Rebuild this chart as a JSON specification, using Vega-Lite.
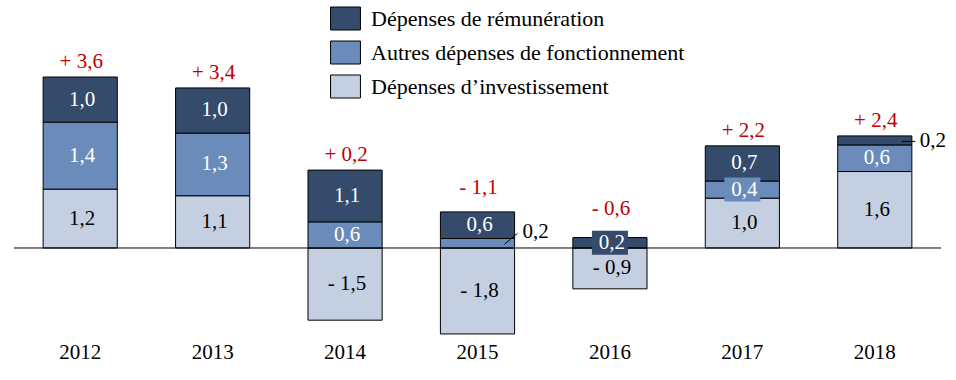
{
  "$schema": "https://vega.github.io/schema/vega-lite/v6.json",
  "width": 927,
  "height": 331,
  "autosize": {"type": "none"},
  "padding": {"left": 14, "top": 5, "right": 15, "bottom": 44},
  "background": "white",
  "config": {"view": {"stroke": null}, "font": "Liberation Serif"},
  "datasets": {
    "segments": [
      {"year": 2012, "cat": "Dépenses d’investissement", "value": 1.24, "label": "1,2"},
      {"year": 2012, "cat": "Autres dépenses de fonctionnement", "value": 1.41, "label": "1,4"},
      {"year": 2012, "cat": "Dépenses de rémunération", "value": 0.95, "label": "1,0"},
      {"year": 2013, "cat": "Dépenses d’investissement", "value": 1.10, "label": "1,1"},
      {"year": 2013, "cat": "Autres dépenses de fonctionnement", "value": 1.32, "label": "1,3"},
      {"year": 2013, "cat": "Dépenses de rémunération", "value": 0.95, "label": "1,0"},
      {"year": 2014, "cat": "Dépenses d’investissement", "value": -1.52, "label": "- 1,5"},
      {"year": 2014, "cat": "Autres dépenses de fonctionnement", "value": 0.55, "label": "0,6"},
      {"year": 2014, "cat": "Dépenses de rémunération", "value": 1.09, "label": "1,1"},
      {"year": 2015, "cat": "Dépenses d’investissement", "value": -1.81, "label": "- 1,8"},
      {"year": 2015, "cat": "Autres dépenses de fonctionnement", "value": 0.2, "label": "0,2"},
      {"year": 2015, "cat": "Dépenses de rémunération", "value": 0.56, "label": "0,6"},
      {"year": 2016, "cat": "Dépenses d’investissement", "value": -0.86, "label": "- 0,9"},
      {"year": 2016, "cat": "Dépenses de rémunération", "value": 0.22, "label": "0,2"},
      {"year": 2017, "cat": "Dépenses d’investissement", "value": 1.05, "label": "1,0"},
      {"year": 2017, "cat": "Autres dépenses de fonctionnement", "value": 0.36, "label": "0,4"},
      {"year": 2017, "cat": "Dépenses de rémunération", "value": 0.74, "label": "0,7"},
      {"year": 2018, "cat": "Dépenses d’investissement", "value": 1.61, "label": "1,6"},
      {"year": 2018, "cat": "Autres dépenses de fonctionnement", "value": 0.56, "label": "0,6"},
      {"year": 2018, "cat": "Dépenses de rémunération", "value": 0.19, "label": "0,2"}
    ],
    "totals": [
      {"year": 2012, "total": "+ 3,6"},
      {"year": 2013, "total": "+ 3,4"},
      {"year": 2014, "total": "+ 0,2"},
      {"year": 2015, "total": "- 1,1"},
      {"year": 2016, "total": "- 0,6"},
      {"year": 2017, "total": "+ 2,2"},
      {"year": 2018, "total": "+ 2,4"}
    ]
  },
  "data": {"name": "segments"},
  "transform": [
    {"calculate": "indexof(['Dépenses d’investissement','Autres dépenses de fonctionnement','Dépenses de rémunération'], datum.cat)", "as": "ord"},
    {"stack": "value", "groupby": ["year"], "sort": [{"field": "ord", "order": "ascending"}], "as": ["v0", "v1"]},
    {"calculate": "(datum.v0 + datum.v1) / 2", "as": "mid"}
  ],
  "layer": [
    {
      "mark": {"type": "bar", "stroke": "black", "strokeWidth": 1},
      "encoding": {
        "x": {"field": "year", "type": "ordinal", "scale": {"paddingInner": 0.44, "paddingOuter": 0.22}, "axis": {"title": null, "labelAngle": 0, "domain": false, "ticks": false, "labelFontSize": 21, "labelFont": "Liberation Serif", "labelColor": "black", "labelPadding": 5}},
        "y": {"field": "v0", "type": "quantitative", "scale": {"domain": [-1.853, 5.116], "nice": false, "zero": false}, "axis": null},
        "y2": {"field": "v1"},
        "color": {
          "field": "cat", "type": "nominal",
          "scale": {"domain": ["Dépenses de rémunération", "Autres dépenses de fonctionnement", "Dépenses d’investissement"], "range": ["#344B6C", "#6B8CBA", "#C4CFE2"]},
          "legend": {"title": null, "orient": "none", "legendX": 319.5, "legendY": 1.5, "symbolType": "M-1.3,-1H1.3V1H-1.3Z", "symbolSize": 529, "symbolStrokeColor": "black", "symbolStrokeWidth": 1, "symbolOpacity": 1, "labelFontSize": 22, "labelFont": "Liberation Serif", "labelColor": "black", "labelOffset": 13.5, "rowPadding": 6, "padding": 0, "labelLimit": 500}
        }
      }
    },
    {
      "data": {"values": [{}]},
      "mark": {"type": "rule", "stroke": "black", "strokeWidth": 1},
      "encoding": {"y": {"datum": 0, "type": "quantitative"}}
    },
    {
      "transform": [{"filter": "(datum.year == 2016 && datum.cat == 'Dépenses de rémunération') || (datum.year == 2017 && datum.cat == 'Autres dépenses de fonctionnement')"}],
      "mark": {"type": "point", "shape": "M-1.5,-1H1.5V1H-1.5Z", "filled": true, "size": 576, "opacity": 1, "strokeWidth": 0},
      "encoding": {
        "x": {"field": "year", "type": "ordinal"},
        "y": {"field": "mid", "type": "quantitative"},
        "color": {"condition": {"test": "datum.year == 2016", "value": "#344B6C"}, "value": "#6B8CBA"}
      }
    },
    {
      "transform": [{"filter": "!((datum.year == 2015 && datum.cat == 'Autres dépenses de fonctionnement') || (datum.year == 2018 && datum.cat == 'Dépenses de rémunération'))"}],
      "mark": {"type": "text", "fontSize": 21, "baseline": "middle", "align": "center", "dx": 2, "font": "Liberation Serif"},
      "encoding": {
        "x": {"field": "year", "type": "ordinal"},
        "y": {"field": "mid", "type": "quantitative"},
        "text": {"field": "label"},
        "color": {"condition": {"test": "datum.cat == 'Dépenses d’investissement'", "value": "black"}, "value": "white"}
      }
    },
    {
      "transform": [{"filter": "datum.year == 2015 && datum.cat == 'Autres dépenses de fonctionnement'"}],
      "mark": {"type": "text", "fontSize": 21, "baseline": "middle", "align": "left", "dx": 45, "dy": -11, "color": "black", "font": "Liberation Serif"},
      "encoding": {
        "x": {"field": "year", "type": "ordinal"},
        "y": {"field": "mid", "type": "quantitative"},
        "text": {"field": "label"}
      }
    },
    {
      "transform": [{"filter": "datum.year == 2015 && datum.cat == 'Autres dépenses de fonctionnement'"}],
      "mark": {"type": "rule", "stroke": "black", "strokeWidth": 1, "xOffset": 27, "x2Offset": 40, "yOffset": 1, "y2Offset": -10},
      "encoding": {
        "x": {"field": "year", "type": "ordinal", "bandPosition": 0.5},
        "x2": {"field": "year", "bandPosition": 0.5},
        "y": {"field": "mid", "type": "quantitative"},
        "y2": {"field": "mid"}
      }
    },
    {
      "transform": [{"filter": "datum.year == 2018 && datum.cat == 'Dépenses de rémunération'"}],
      "mark": {"type": "text", "fontSize": 21, "baseline": "middle", "align": "left", "dx": 45, "dy": 1, "color": "black", "font": "Liberation Serif"},
      "encoding": {
        "x": {"field": "year", "type": "ordinal"},
        "y": {"field": "mid", "type": "quantitative"},
        "text": {"field": "label"}
      }
    },
    {
      "transform": [{"filter": "datum.year == 2018 && datum.cat == 'Dépenses de rémunération'"}],
      "mark": {"type": "rule", "stroke": "black", "strokeWidth": 1, "xOffset": 27, "x2Offset": 40.5, "yOffset": 1, "y2Offset": 1},
      "encoding": {
        "x": {"field": "year", "type": "ordinal", "bandPosition": 0.5},
        "x2": {"field": "year", "bandPosition": 0.5},
        "y": {"field": "mid", "type": "quantitative"},
        "y2": {"field": "mid"}
      }
    },
    {
      "transform": [
        {"filter": "datum.value > 0"},
        {"aggregate": [{"op": "max", "field": "v1", "as": "top"}], "groupby": ["year"]},
        {"lookup": "year", "from": {"data": {"name": "totals"}, "key": "year", "fields": ["total"]}},
        {"filter": "datum.year != 2015 && datum.year != 2016"}
      ],
      "mark": {"type": "text", "fontSize": 21, "baseline": "middle", "align": "center", "dx": 1, "dy": -15, "color": "#C00000", "font": "Liberation Serif"},
      "encoding": {
        "x": {"field": "year", "type": "ordinal"},
        "y": {"field": "top", "type": "quantitative"},
        "text": {"field": "total"}
      }
    },
    {
      "transform": [
        {"filter": "datum.value > 0"},
        {"aggregate": [{"op": "max", "field": "v1", "as": "top"}], "groupby": ["year"]},
        {"lookup": "year", "from": {"data": {"name": "totals"}, "key": "year", "fields": ["total"]}},
        {"filter": "datum.year == 2015"}
      ],
      "mark": {"type": "text", "fontSize": 21, "baseline": "middle", "align": "center", "dx": 1, "dy": -24, "color": "#C00000", "font": "Liberation Serif"},
      "encoding": {
        "x": {"field": "year", "type": "ordinal"},
        "y": {"field": "top", "type": "quantitative"},
        "text": {"field": "total"}
      }
    },
    {
      "transform": [
        {"filter": "datum.value > 0"},
        {"aggregate": [{"op": "max", "field": "v1", "as": "top"}], "groupby": ["year"]},
        {"lookup": "year", "from": {"data": {"name": "totals"}, "key": "year", "fields": ["total"]}},
        {"filter": "datum.year == 2016"}
      ],
      "mark": {"type": "text", "fontSize": 21, "baseline": "middle", "align": "center", "dx": 1, "dy": -29, "color": "#C00000", "font": "Liberation Serif"},
      "encoding": {
        "x": {"field": "year", "type": "ordinal"},
        "y": {"field": "top", "type": "quantitative"},
        "text": {"field": "total"}
      }
    }
  ]
}
